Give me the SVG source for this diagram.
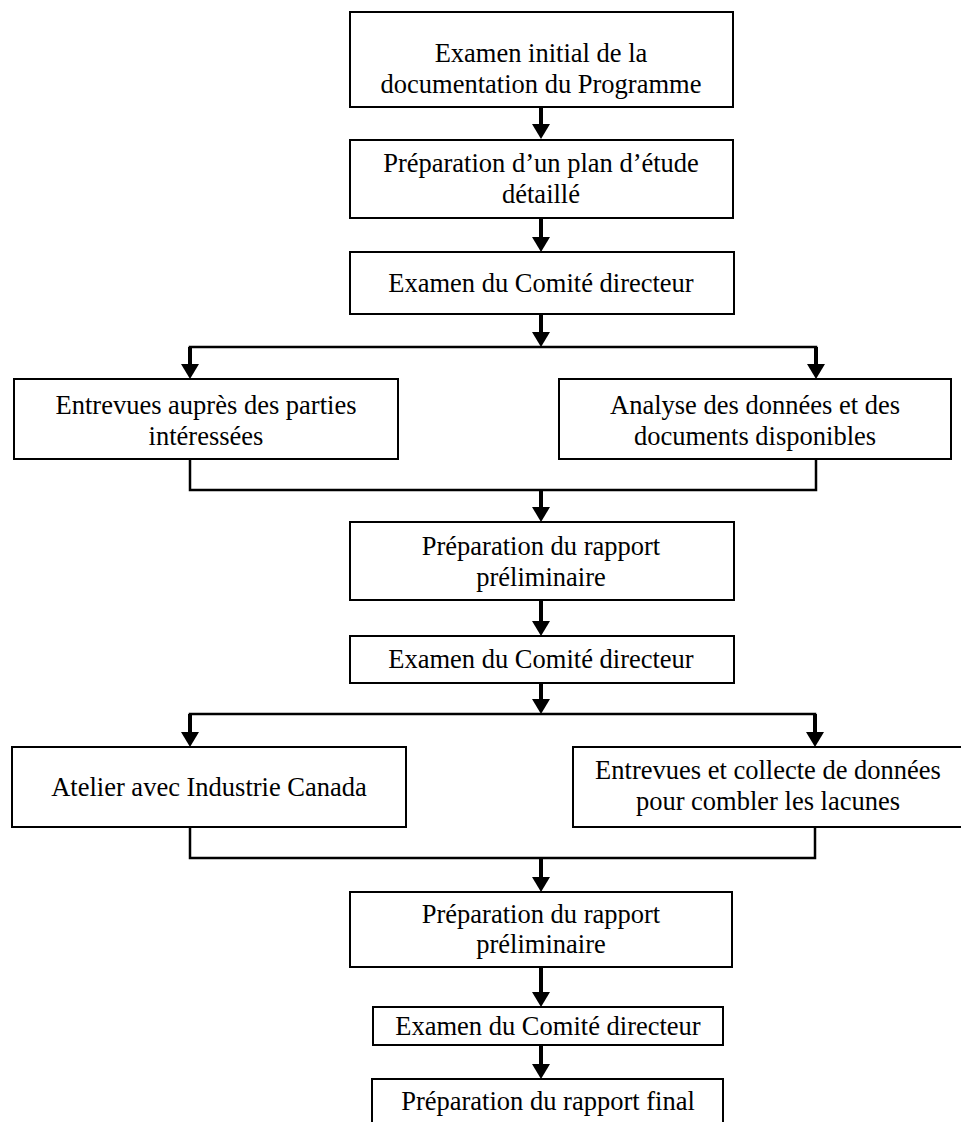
<svg xmlns="http://www.w3.org/2000/svg" width="961" height="1122" viewBox="0 0 961 1122">
<style>
.box{fill:#fff;stroke:#000;stroke-width:2}
.t{font-family:"Liberation Serif","Times New Roman",serif;font-size:26.5px;fill:#000;text-anchor:middle}
.sh{stroke:#000;stroke-width:4;fill:none}
.ln{stroke:#000;stroke-width:2.5;fill:none}
</style>
<defs>
<marker id="ah" markerUnits="userSpaceOnUse" viewBox="0 -9 15 18" refX="0" refY="0" markerWidth="15" markerHeight="18" orient="auto">
<path d="M0,-9 L15,0 L0,9 z" fill="#000"/>
</marker>
</defs>
<rect width="961" height="1122" fill="#fff"/>
<g id="connectors">
<line class="sh" x1="541" y1="107" x2="541" y2="124" marker-end="url(#ah)"/>
<line class="sh" x1="541" y1="218" x2="541" y2="237" marker-end="url(#ah)"/>
<line class="sh" x1="541" y1="314" x2="541" y2="332" marker-end="url(#ah)"/>
<polyline class="ln" points="190,364 190,347 816,347 816,364"/>
<line class="sh" x1="190" y1="347" x2="190" y2="364" marker-end="url(#ah)"/>
<line class="sh" x1="816" y1="347" x2="816" y2="364" marker-end="url(#ah)"/>
<polyline class="ln" points="190,459 190,490 816,490 816,459"/>
<line class="sh" x1="541" y1="490" x2="541" y2="507" marker-end="url(#ah)"/>
<line class="sh" x1="541" y1="600" x2="541" y2="621" marker-end="url(#ah)"/>
<line class="sh" x1="541" y1="683" x2="541" y2="699" marker-end="url(#ah)"/>
<polyline class="ln" points="190,732 190,714 815,714 815,732"/>
<line class="sh" x1="190" y1="714" x2="190" y2="732" marker-end="url(#ah)"/>
<line class="sh" x1="815" y1="714" x2="815" y2="732" marker-end="url(#ah)"/>
<polyline class="ln" points="190,827 190,858 815,858 815,827"/>
<line class="sh" x1="541" y1="858" x2="541" y2="877" marker-end="url(#ah)"/>
<line class="sh" x1="541" y1="967" x2="541" y2="992" marker-end="url(#ah)"/>
<line class="sh" x1="541" y1="1045" x2="541" y2="1064" marker-end="url(#ah)"/>
</g>
<g id="n1"><rect class="box" x="350" y="12" width="383" height="95"/>
<text class="t" x="541" y="62">Examen initial de la</text><text class="t" x="541" y="93">documentation du Programme</text></g>
<g id="n2"><rect class="box" x="350" y="140" width="383" height="78"/>
<text class="t" x="541" y="172">Préparation d’un plan d’étude</text><text class="t" x="541" y="203">détaillé</text></g>
<g id="n3"><rect class="box" x="350" y="252" width="384" height="62"/>
<text class="t" x="541" y="292">Examen du Comité directeur</text></g>
<g id="n4"><rect class="box" x="14" y="379" width="384" height="80"/>
<text class="t" x="206" y="414">Entrevues auprès des parties</text><text class="t" x="206" y="445">intéressées</text></g>
<g id="n5"><rect class="box" x="559" y="379" width="392" height="80"/>
<text class="t" x="755" y="414">Analyse des données et des</text><text class="t" x="755" y="445">documents disponibles</text></g>
<g id="n6"><rect class="box" x="350" y="522" width="384" height="78"/>
<text class="t" x="541" y="555">Préparation du rapport</text><text class="t" x="541" y="586">préliminaire</text></g>
<g id="n7"><rect class="box" x="350" y="636" width="384" height="47"/>
<text class="t" x="541" y="668">Examen du Comité directeur</text></g>
<g id="n8"><rect class="box" x="12" y="747" width="394" height="80"/>
<text class="t" x="209" y="796">Atelier avec Industrie Canada</text></g>
<g id="n9"><rect class="box" x="573" y="747" width="390" height="80"/>
<text class="t" x="768" y="779">Entrevues et collecte de données</text><text class="t" x="768" y="810">pour combler les lacunes</text></g>
<g id="n10"><rect class="box" x="350" y="892" width="382" height="75"/>
<text class="t" x="541" y="923">Préparation du rapport</text><text class="t" x="541" y="953">préliminaire</text></g>
<g id="n11"><rect class="box" x="373" y="1007" width="350" height="38"/>
<text class="t" x="548" y="1035">Examen du Comité directeur</text></g>
<g id="n12"><rect class="box" x="372" y="1079" width="351" height="60"/>
<text class="t" x="548" y="1110">Préparation du rapport final</text></g>
</svg>
